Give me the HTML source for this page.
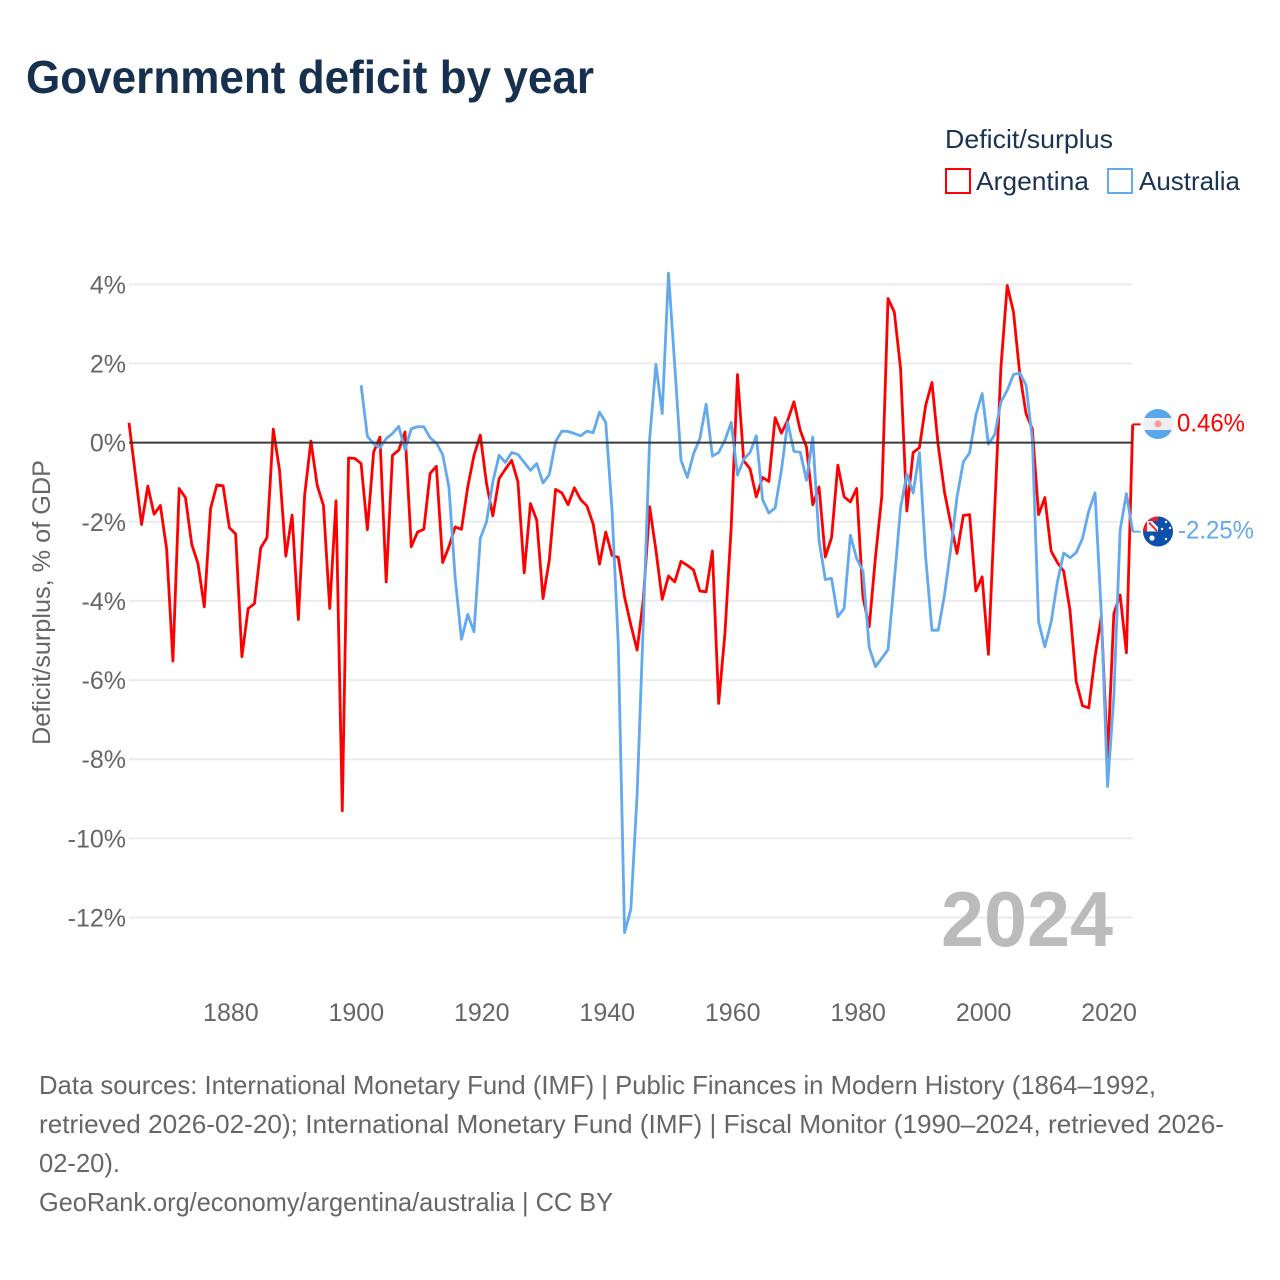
<!DOCTYPE html>
<html lang="en">
<head>
<meta charset="utf-8">
<title>Government deficit by year</title>
<style>
html,body{margin:0;padding:0;background:#fff;}
svg{display:block;}
text{font-family:"Liberation Sans",sans-serif;}
</style>
</head>
<body>
<svg id="chart" xmlns="http://www.w3.org/2000/svg" width="1280" height="1280" viewBox="0 0 1280 1280">
  <rect x="0" y="0" width="1280" height="1280" fill="#ffffff"/>
  <text x="26" y="93" font-size="46" font-weight="700" fill="#17304f" textLength="568" lengthAdjust="spacingAndGlyphs">Government deficit by year</text>

  <g>
    <text x="945" y="148" font-size="26" fill="#1b3353" textLength="168" lengthAdjust="spacingAndGlyphs">Deficit/surplus</text>
    <g>
      <rect x="946" y="169" width="24" height="24" fill="#ffffff" stroke="#ff0000" stroke-width="2"/>
      <text x="976" y="190" font-size="26" fill="#1b3353" textLength="113" lengthAdjust="spacingAndGlyphs">Argentina</text>
    </g>
    <g>
      <rect x="1108" y="169" width="24" height="24" fill="#ffffff" stroke="#62a9ee" stroke-width="2"/>
      <text x="1139" y="190" font-size="26" fill="#1b3353" textLength="101" lengthAdjust="spacingAndGlyphs">Australia</text>
    </g>
  </g>

  <text transform="translate(50,602.5) rotate(-90)" text-anchor="middle" font-size="25" fill="#666666" textLength="285" lengthAdjust="spacingAndGlyphs">Deficit/surplus, % of GDP</text>

  <g id="grid"></g>
  <g id="yTicks"></g>
  <g id="xTicks"></g>

  <text x="941" y="946" font-size="78" font-weight="700" fill="#bbbbbb" textLength="172" lengthAdjust="spacingAndGlyphs">2024</text>

  <g id="lines"></g>
  <g id="zero"></g>
  <g id="ends"></g>

  <defs>
    <clipPath id="clipArg"><circle cx="1158" cy="424" r="15"/></clipPath>
    <clipPath id="clipAus"><circle cx="1158" cy="531.5" r="15"/></clipPath>
  </defs>

  <g clip-path="url(#clipArg)">
    <rect x="1143" y="409" width="30" height="10" fill="#5aa6ea"/>
    <rect x="1143" y="418" width="30" height="13" fill="#efeff2"/>
    <rect x="1143" y="430" width="30" height="10" fill="#5aa6ea"/>
    <circle cx="1158" cy="424" r="3.6" fill="#ff9a9a"/>
  </g>

  <g clip-path="url(#clipAus)">
    <rect x="1143" y="516" width="30" height="31" fill="#0b50ab"/>
    <rect x="1143" y="516" width="15" height="15.5" fill="#f01e28"/>
    <rect x="1147" y="521" width="11" height="10.5" fill="#f4f4f8"/>
    <path d="M1149 522.5 L1157 531" stroke="#e0303a" stroke-width="2" fill="none"/>
    <path d="M1152 521 L1158 521 L1158 527 Z" fill="#0b50ab"/>
    <circle cx="1152" cy="538" r="2.6" fill="#ffffff"/>
    <circle cx="1166" cy="522" r="1.2" fill="#ffffff"/>
    <circle cx="1170" cy="528" r="1.2" fill="#ffffff"/>
    <circle cx="1162" cy="529" r="1.2" fill="#ffffff"/>
    <circle cx="1166" cy="539" r="1.2" fill="#ffffff"/>
  </g>

  <g font-size="26" fill="#666666">
    <text x="39" y="1094" textLength="1117" lengthAdjust="spacingAndGlyphs">Data sources: International Monetary Fund (IMF) | Public Finances in Modern History (1864–1992,</text>
    <text x="39" y="1133" textLength="1185" lengthAdjust="spacingAndGlyphs">retrieved 2026-02-20); International Monetary Fund (IMF) | Fiscal Monitor (1990–2024, retrieved 2026-</text>
    <text x="39" y="1172" textLength="81" lengthAdjust="spacingAndGlyphs">02-20).</text>
    <text x="39" y="1211" textLength="574" lengthAdjust="spacingAndGlyphs">GeoRank.org/economy/argentina/australia | CC BY</text>
  </g>
</svg>

<script>
const yTickValues = [4, 2, 0, -2, -4, -6, -8, -10, -12];
const xTickYears = [1880, 1900, 1920, 1940, 1960, 1980, 2000, 2020];

const argentinaStartYear = 1864;
const argentinaValues = [
  0.50,-0.78,-2.07,-1.10,-1.81,-1.59,-2.69,-5.52,-1.16,-1.39,
  -2.57,-3.06,-4.15,-1.67,-1.07,-1.09,-2.15,-2.31,-5.41,-4.19,
  -4.07,-2.66,-2.40,0.34,-0.70,-2.87,-1.83,-4.47,-1.33,0.04,
  -1.08,-1.59,-4.19,-1.47,-9.30,-0.39,-0.40,-0.53,-2.20,-0.24,
  0.14,-3.52,-0.32,-0.19,0.27,-2.63,-2.26,-2.19,-0.78,-0.60,
  -3.03,-2.63,-2.13,-2.19,-1.12,-0.32,0.19,-1.04,-1.85,-0.91,
  -0.67,-0.45,-0.99,-3.29,-1.54,-1.96,-3.94,-2.97,-1.18,-1.27,
  -1.57,-1.14,-1.44,-1.60,-2.06,-3.07,-2.26,-2.85,-2.90,-3.90,
  -4.61,-5.24,-3.95,-1.62,-2.72,-3.96,-3.37,-3.52,-3.00,-3.10,
  -3.22,-3.75,-3.77,-2.74,-6.59,-4.82,-2.13,1.72,-0.46,-0.66,
  -1.37,-0.88,-0.98,0.63,0.24,0.56,1.03,0.31,-0.11,-1.57,
  -1.12,-2.89,-2.40,-0.57,-1.37,-1.50,-1.16,-3.90,-4.65,-2.89,
  -1.37,3.64,3.30,1.87,-1.73,-0.25,-0.13,0.94,1.52,-0.07,
  -1.25,-2.05,-2.80,-1.84,-1.82,-3.75,-3.39,-5.35,-1.70,1.91,
  3.97,3.30,1.74,0.73,0.35,-1.82,-1.39,-2.74,-3.03,-3.25,
  -4.23,-6.04,-6.65,-6.70,-5.41,-4.40,-8.00,-4.32,-3.85,-5.31,
  0.46
];

const australiaStartYear = 1901;
const australiaValues = [
  1.45,0.16,-0.03,-0.13,0.10,0.23,0.41,-0.18,0.35,0.40,
  0.40,0.12,-0.01,-0.30,-1.12,-3.43,-4.97,-4.34,-4.78,-2.42,
  -2.00,-0.99,-0.32,-0.50,-0.25,-0.30,-0.50,-0.70,-0.53,-1.02,
  -0.81,0.02,0.29,0.28,0.23,0.17,0.29,0.25,0.77,0.51,
  -1.71,-5.10,-12.38,-11.79,-8.90,-4.50,0.10,1.98,0.73,4.28,
  1.95,-0.45,-0.88,-0.28,0.10,0.97,-0.34,-0.25,0.06,0.51,
  -0.82,-0.42,-0.25,0.17,-1.44,-1.78,-1.65,-0.70,0.51,-0.22,
  -0.24,-0.95,0.14,-2.47,-3.46,-3.43,-4.40,-4.19,-2.34,-2.93,
  -3.24,-5.18,-5.66,-5.45,-5.23,-3.48,-1.65,-0.80,-1.27,-0.25,
  -2.89,-4.74,-4.74,-3.85,-2.68,-1.37,-0.49,-0.26,0.69,1.24,
  -0.04,0.20,1.03,1.32,1.72,1.76,1.45,0.10,-4.53,-5.16,
  -4.53,-3.52,-2.79,-2.91,-2.78,-2.42,-1.73,-1.27,-4.32,-8.69,
  -6.40,-2.21,-1.29,-2.25
];

const argentinaEndLabel = "0.46%";
const australiaEndLabel = "-2.25%";

/* Axis functions */
const SVG_NS = "http://www.w3.org/2000/svg";
const PLOT_LEFT = 129;
const PLOT_RIGHT = 1133;
function xScale(year) { return 129 + (year - 1864) * 6.273; }
function yScale(value) { return 442.6 - value * 39.58; }

function make(tag, attrs, parent) {
  const el = document.createElementNS(SVG_NS, tag);
  for (const k in attrs) el.setAttribute(k, attrs[k]);
  parent.appendChild(el);
  return el;
}

const gridLayer = document.getElementById("grid");
const yTickLayer = document.getElementById("yTicks");
const xTickLayer = document.getElementById("xTicks");
const lineLayer = document.getElementById("lines");
const zeroLayer = document.getElementById("zero");
const endLayer = document.getElementById("ends");

yTickValues.forEach(function (v) {
  const line = make("line", {x1: PLOT_LEFT, x2: PLOT_RIGHT, y1: yScale(v), y2: yScale(v), stroke: "#ebebef", "stroke-width": 2}, gridLayer);
  
  
  const label = make("text", {x: 126, y: yScale(v) + 9, "text-anchor": "end", "font-size": 25, fill: "#666666"}, yTickLayer);
  
  
  label.textContent = v + "%";
});

xTickYears.forEach(function (yr) {
  const label = make("text", {x: xScale(yr) + 1.5, y: 1021, "text-anchor": "middle", "font-size": 25, fill: "#666666"}, xTickLayer);
  
  
  label.textContent = yr;
});

function linePoints(values, startYear) {
  return values.map(function (v, i) {
    return xScale(startYear + i).toFixed(2) + "," + yScale(v).toFixed(2);
  }).join(" ");
}

const argentinaLine = make("polyline", {points: linePoints(argentinaValues, argentinaStartYear), fill: "none", stroke: "#ff0000", "stroke-width": 2.8, "stroke-linejoin": "round"}, lineLayer);



const australiaLine = make("polyline", {points: linePoints(australiaValues, australiaStartYear), fill: "none", stroke: "#62a9ee", "stroke-width": 2.8, "stroke-linejoin": "round"}, lineLayer);



const zeroLine = make("line", {x1: PLOT_LEFT, x2: PLOT_RIGHT, y1: yScale(0), y2: yScale(0), stroke: "#333333", "stroke-width": 2, opacity: 0.95}, zeroLayer);



function endMark(values, startYear, color, text, labelX, labelWidth) {
  const last = values[values.length - 1];
  const xEnd = xScale(startYear + values.length - 1);
  const y = yScale(last);
  const leader = make("line", {x1: xEnd, x2: xEnd + 8, y1: y, y2: y, stroke: color, "stroke-width": 2}, endLayer);
  
  
  const label = make("text", {x: labelX, y: y + 7, "font-size": 25, fill: color, textLength: labelWidth, lengthAdjust: "spacingAndGlyphs"}, endLayer);
  
  
  label.textContent = text;
}
endMark(argentinaValues, argentinaStartYear, "#ff0000", argentinaEndLabel, 1177, 68);
endMark(australiaValues, australiaStartYear, "#62a9ee", australiaEndLabel, 1178, 76);
</script>
</body>
</html>
